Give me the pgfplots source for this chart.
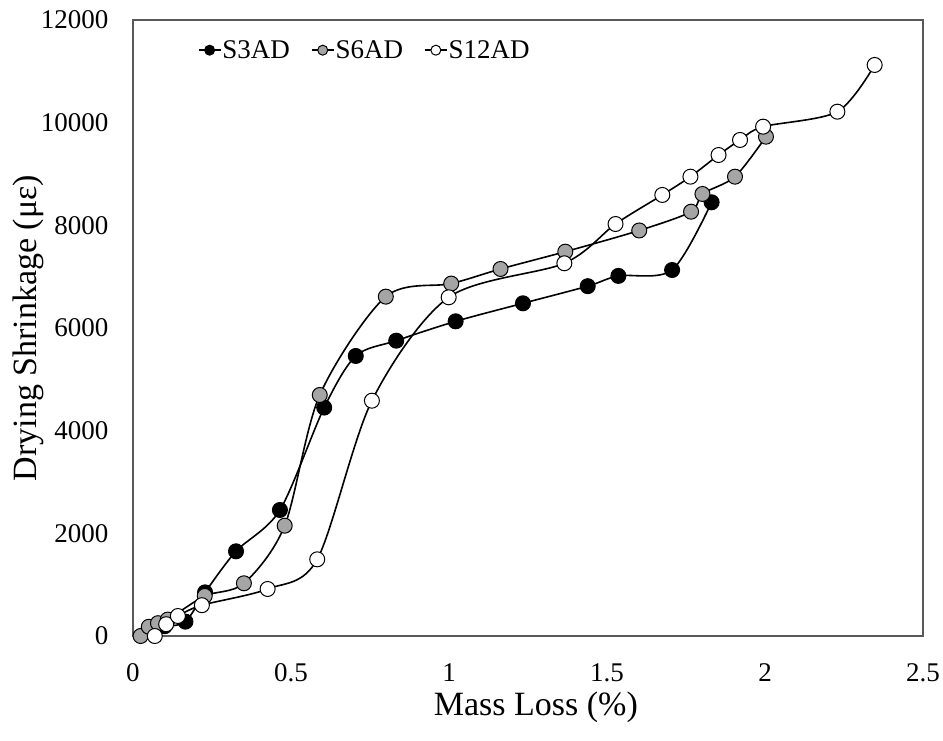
\documentclass[border=0pt]{standalone}
\usepackage{fontspec}
\setmainfont{Liberation Serif}
\usepackage{pgfplots}
\pgfplotsset{compat=1.18}
\definecolor{markgray}{HTML}{A5A5A5}
\definecolor{framegray}{HTML}{595959}

\begin{document}
\begin{tikzpicture}
\begin{axis}[
  name=a,
  scale only axis,
  width=790pt, height=616pt,
  xmin=0, xmax=2.5, ymin=0, ymax=12000,
  xtick={0,0.5,1,1.5,2,2.5},
  ytick={0,2000,4000,6000,8000,10000,12000},
  scaled y ticks=false,
  scaled x ticks=false,
  major tick length=0pt,
  axis line style={framegray, line width=1.5pt},
  /pgf/number format/assume math mode=true,
  /pgf/number format/1000 sep={},
  tick label style={font=\fontsize{27}{30}\selectfont},
  xticklabel style={inner sep=0pt, yshift=-27pt},
  yticklabel style={xshift=-21pt},
  xlabel={Mass Loss (\%)},
  ylabel={Drying Shrinkage (με)},
  label style={font=\fontsize{34}{38}\selectfont},
  xlabel style={at={(axis description cs:0.51,-0.116)}, anchor=center, inner sep=0pt},
  ylabel style={at={(axis description cs:-0.133,0.5)}, anchor=center},
  legend columns=3,
  legend style={at={(axis description cs:0.078,0.951)}, anchor=west,
    draw=none, fill=none, font=\fontsize{27}{30}\selectfont,
    nodes={inner sep=1pt},
    /tikz/every even column/.append style={column sep=20pt}},
  legend image code/.code={%
    \draw[#1, mark repeat=2, mark phase=2, mark size=5pt]
      plot coordinates {(0pt,0pt) (11pt,0pt) (22pt,0pt)};},
  every axis plot/.append style={black, line width=1.6pt, smooth, tension=0.5,
    mark=*, mark size=7.5pt},
]
% S3AD
\addplot[mark options={line width=1pt, draw=black, fill=black}] coordinates {
  (0.10,190) (0.166,280) (0.228,850) (0.326,1650) (0.465,2455)
  (0.605,4450) (0.705,5455) (0.833,5753) (1.021,6130) (1.234,6481)
  (1.439,6815) (1.536,7015) (1.706,7130) (1.831,8449)
};
\addlegendentry{S3AD}
% S6AD
\addplot[mark options={line width=1pt, draw=black, fill=markgray}] coordinates {
  (0.024,0) (0.05,180) (0.079,250) (0.11,320) (0.227,780) (0.351,1027)
  (0.48,2149) (0.591,4695) (0.80,6611) (1.007,6865) (1.163,7150)
  (1.368,7487) (1.602,7900) (1.766,8266) (1.802,8611) (1.905,8948)
  (2.003,9727)
};
\addlegendentry{S6AD}
% S12AD
\addplot[mark options={line width=1pt, draw=black, fill=white}] coordinates {
  (0.069,0) (0.105,230) (0.142,390) (0.218,600) (0.426,916) (0.583,1494)
  (0.756,4584) (0.999,6598) (1.365,7261) (1.527,8026) (1.675,8592)
  (1.764,8948) (1.853,9370) (1.921,9663) (1.994,9922) (2.229,10214)
  (2.347,11124)
};
\addlegendentry{S12AD}
\end{axis}
\pgfresetboundingbox
\path ([shift={(-133pt,-104pt)}]a.south west) rectangle ([shift={(20pt,20pt)}]a.north east);
\end{tikzpicture}
\end{document}
